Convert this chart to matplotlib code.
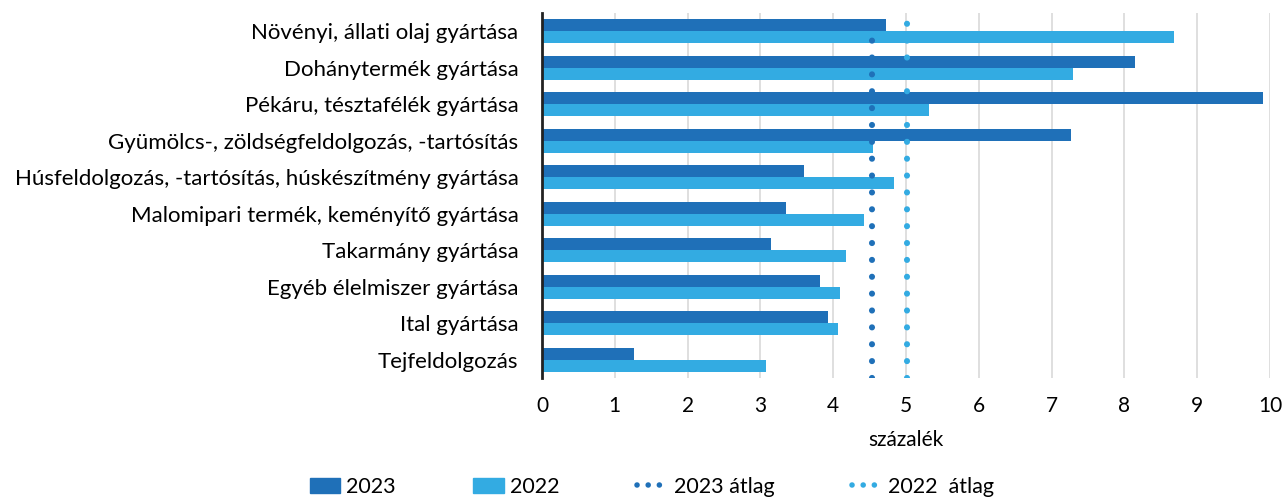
import matplotlib.pyplot as plt
from matplotlib.patches import Patch
from matplotlib.lines import Line2D
import numpy as np

plt.rcParams['font.family'] = ['Lato', 'DejaVu Sans']

kategoriak = [
    "Növényi, állati olaj gyártása",
    "Dohánytermék gyártása",
    "Pékáru, tésztafélék gyártása",
    "Gyümölcs-, zöldségfeldolgozás, -tartósítás",
    "Húsfeldolgozás, -tartósítás, húskészítmény gyártása",
    "Malomipari termék, keményítő gyártása",
    "Takarmány gyártása",
    "Egyéb élelmiszer gyártása",
    "Ital gyártása",
    "Tejfeldolgozás",
]
ertek_2023 = [4.72, 8.14, 9.91, 7.27, 3.60, 3.35, 3.15, 3.82, 3.93, 1.26]
ertek_2022 = [8.68, 7.30, 5.31, 4.55, 4.84, 4.42, 4.18, 4.10, 4.06, 3.08]
atlag_2023 = 4.53
atlag_2022 = 5.02

sotet = '#1f70b8'
vilagos = '#33abe2'

fig = plt.figure(figsize=(12.87, 4.98), dpi=100)
ax = fig.add_axes([542 / 1287, 1 - 378 / 498, 728 / 1287, 365 / 498])

y = np.arange(len(kategoriak))
h = 0.33
ax.barh(y - h / 2, ertek_2023, height=h, color=sotet, zorder=2)
ax.barh(y + h / 2, ertek_2022, height=h, color=vilagos, zorder=2)

pont = (0, (0.01, 2.75))
ax.axvline(atlag_2023, color=sotet, linestyle=pont, linewidth=4.4,
           dash_capstyle='round', zorder=3)
ax.axvline(atlag_2022, color=vilagos, linestyle=pont, linewidth=4.4,
           dash_capstyle='round', zorder=3)

ax.set_ylim(len(kategoriak) - 0.5, -0.5)
ax.set_xlim(0, 10)
ax.set_yticks(y)
ax.set_yticklabels(kategoriak, fontsize=16)
ax.set_xticks(range(11))
ax.tick_params(axis='x', labelsize=15, length=0, pad=13)
ax.tick_params(axis='y', length=0, pad=17)
ax.grid(axis='x', color='#d9d9d9', linewidth=1.2, zorder=0)
ax.set_axisbelow(True)
for s in ['top', 'right', 'bottom']:
    ax.spines[s].set_visible(False)
ax.spines['left'].set_linewidth(2)
ax.spines['left'].set_color('#222222')
ax.set_xlabel('százalék', fontsize=15, labelpad=10)

handles = [
    Patch(color=sotet),
    Patch(color=vilagos),
    Line2D([0], [0], color=sotet, linestyle=(0, (0.01, 2.0)), linewidth=4,
           dash_capstyle='round'),
    Line2D([0], [0], color=vilagos, linestyle=(0, (0.01, 2.0)), linewidth=4,
           dash_capstyle='round'),
]
labels = ['2023', '2022', '2023 átlag', '2022  átlag']
fig.legend(handles, labels, loc='center', bbox_to_anchor=(652 / 1287, 1 - 487 / 498),
           ncol=4, frameon=False, fontsize=15.5, columnspacing=3.6,
           handlelength=1.4, handletextpad=0.3)

fig.savefig('out.png', dpi=100)
